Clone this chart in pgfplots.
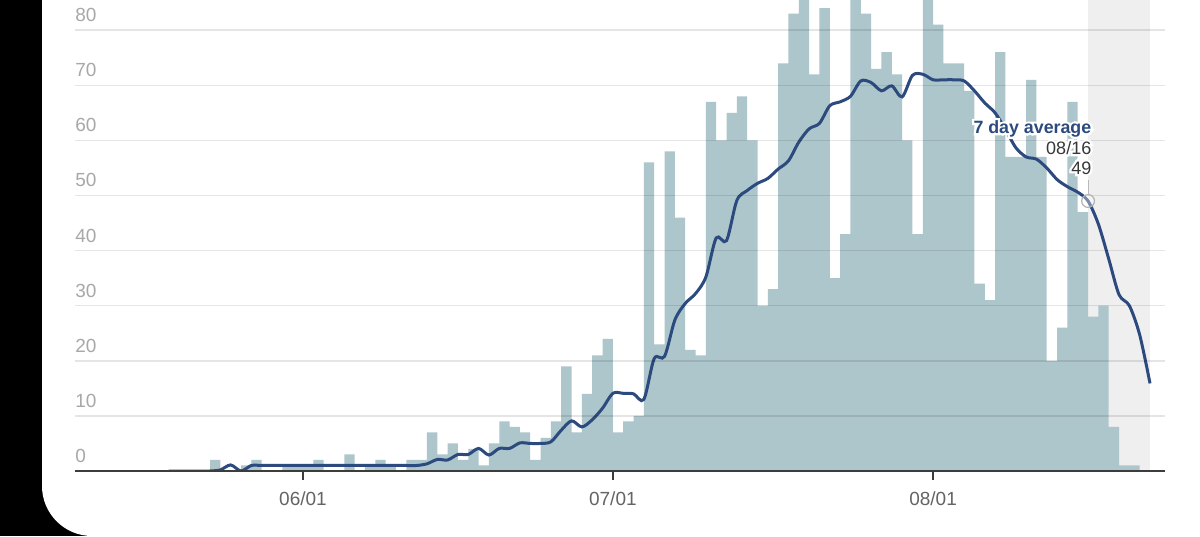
\documentclass[border=0pt]{standalone}
\usepackage{fontspec}
\setmainfont{Liberation Sans}
\newfontface\halobold[FakeBold=25]{Liberation Sans Bold}
\newfontface\haloreg[FakeBold=25]{Liberation Sans}
\usepackage{pgfplots}
\pgfplotsset{compat=1.18}
\definecolor{barcol}{RGB}{173,198,203}
\definecolor{linecol}{RGB}{44,74,126}
\definecolor{shadecol}{RGB}{239,239,239}
\definecolor{ylabcol}{RGB}{168,168,168}
\definecolor{xlabcol}{RGB}{100,100,100}
\definecolor{axiscol}{RGB}{60,60,60}
\definecolor{anncol}{RGB}{55,55,55}
\begin{document}
\begin{tikzpicture}
\fill[black] (0pt,0pt) rectangle (600pt,268pt);
\fill[white] (21pt,268pt) -- (21pt,25pt) arc[start angle=180, end angle=270, radius=25pt] -- (600pt,0pt) -- (600pt,268pt) -- cycle;
\begin{axis}[
  scale only axis, width=545pt, height=235.5pt,
  at={(37.5pt,32.5pt)}, anchor=south west,
  xmin=-22.07, xmax=83.45, ymin=0, ymax=85.48,
  enlargelimits=false,
  axis on top,
  axis x line*=bottom, axis y line*=left,
  y axis line style={draw=none},
  x axis line style={draw=axiscol, line width=1pt},
  ytick={0,10,...,80},
  ymajorgrids,
  grid style={draw=black, draw opacity=0.1, line width=0.75pt},
  ytick style={draw=none}, ytick align=inside,
  yticklabel style={anchor=south west, inner sep=0pt, xshift=0pt, yshift=4pt, text=ylabcol, font=\fontsize{9.5pt}{11pt}\selectfont},
  xtick={0,30,61}, xticklabels={06/01,07/01,08/01},
  xtick style={draw=axiscol, line width=1pt}, xtick align=outside,
  major tick length=4.5pt,
  xticklabel style={text=xlabcol, yshift=-2.5pt, font=\fontsize{9.5pt}{11pt}\selectfont},
  /pgf/number format/assume math mode=true,
]
% shaded (incomplete data) region
\addplot[fill=shadecol, draw=none] coordinates {(76,85.48) (82,85.48)} \closedcycle;
% daily bars
\addplot[const plot mark left, fill=barcol, draw=none] coordinates {
(-13,0) (-12,0) (-11,0) (-10,0) (-9,2) (-8,0) (-7,0) (-6,1) (-5,2) (-4,0)
(-3,0) (-2,1) (-1,1) (0,1) (1,2) (2,0) (3,0) (4,3) (5,0) (6,1)
(7,2) (8,1) (9,0) (10,2) (11,2) (12,7) (13,3) (14,5) (15,2) (16,4)
(17,1) (18,5) (19,9) (20,8) (21,7) (22,2) (23,6) (24,9) (25,19) (26,7)
(27,14) (28,21) (29,24) (30,7) (31,9) (32,10) (33,56) (34,23) (35,58) (36,46)
(37,22) (38,21) (39,67) (40,60) (41,65) (42,68) (43,60) (44,30) (45,33) (46,74)
(47,83) (48,87) (49,72) (50,84) (51,35) (52,43) (53,88) (54,83) (55,73) (56,76)
(57,72) (58,60) (59,43) (60,87) (61,81) (62,74) (63,74) (64,69) (65,34) (66,31)
(67,76) (68,57) (69,57) (70,71) (71,57) (72,20) (73,26) (74,67) (75,47) (76,28)
(77,30) (78,8) (79,1) (80,1) (81,0) (82,0)
} \closedcycle;
% 7 day average
\addplot[linecol, line width=1.5pt, smooth] coordinates {
(-13,0) (-12,0) (-11,0) (-10,0) (-9,0) (-8,0.2) (-7,1.1) (-6,0) (-5,1) (-4,1)
(-3,1) (-2,1) (-1,1) (0,1) (1,1) (2,1) (3,1) (4,1) (5,1) (6,1)
(7,1) (8,1) (9,1) (10,1) (11,1) (12,1.3) (13,2.1) (14,2.0) (15,3.0) (16,3.0)
(17,4.1) (18,2.9) (19,4.1) (20,4.1) (21,5.1) (22,5.0) (23,5.0) (24,5.3) (25,7.4) (26,9.1)
(27,8.0) (28,9.3) (29,11.4) (30,14.1) (31,14.1) (32,14.0) (33,13.0) (34,20.4) (35,20.8) (36,27.4)
(37,30.4) (38,32.2) (39,35.2) (40,42.3) (41,41.8) (42,49.1) (43,50.9) (44,52.2) (45,53.1) (46,54.8)
(47,56.3) (48,59.7) (49,62.1) (50,63.1) (51,66.3) (52,67.0) (53,68.0) (54,70.8) (55,70.5) (56,69.0)
(57,69.9) (58,67.9) (59,71.8) (60,72.0) (61,71.0) (62,71.0) (63,71.0) (64,70.8) (65,69.0) (66,66.8)
(67,65.0) (68,62.0) (69,58.7) (70,57.0) (71,56.6) (72,55.0) (73,52.9) (74,51.6) (75,50.6) (76,49.0)
(77,44.8) (78,38.5) (79,32.0) (80,30.0) (81,24.7) (82,15.9)
};
% highlighted point
\addplot[gray!55, line width=0.5pt] coordinates {(76,50.3) (76,52.9)};
\addplot[only marks, mark=*, mark size=3.2pt, mark options={draw=gray!60, fill=white, fill opacity=0.35, line width=0.6pt}] coordinates {(76,49)};
\coordinate (lab1) at (axis cs:76.35,61.3);
\coordinate (lab2) at (axis cs:76.35,57.5);
\coordinate (lab3) at (axis cs:76.35,53.9);
\end{axis}
\node[anchor=base east, inner sep=0pt, text=white, font=\halobold\fontsize{8.9pt}{10pt}\selectfont] at (lab1) {7 day average};
\node[anchor=base east, inner sep=0pt, text=white, font=\haloreg\fontsize{9pt}{10pt}\selectfont] at (lab2) {08/16};
\node[anchor=base east, inner sep=0pt, text=white, font=\haloreg\fontsize{9pt}{10pt}\selectfont] at (lab3) {49};
\node[anchor=base east, inner sep=0pt, text=linecol, font=\bfseries\fontsize{8.9pt}{10pt}\selectfont] at (lab1) {7 day average};
\node[anchor=base east, inner sep=0pt, text=anncol, font=\fontsize{9pt}{10pt}\selectfont] at (lab2) {08/16};
\node[anchor=base east, inner sep=0pt, text=anncol, font=\fontsize{9pt}{10pt}\selectfont] at (lab3) {49};
\pgfresetboundingbox
\useasboundingbox (0pt,0pt) rectangle (600pt,268pt);
\end{tikzpicture}
\end{document}
